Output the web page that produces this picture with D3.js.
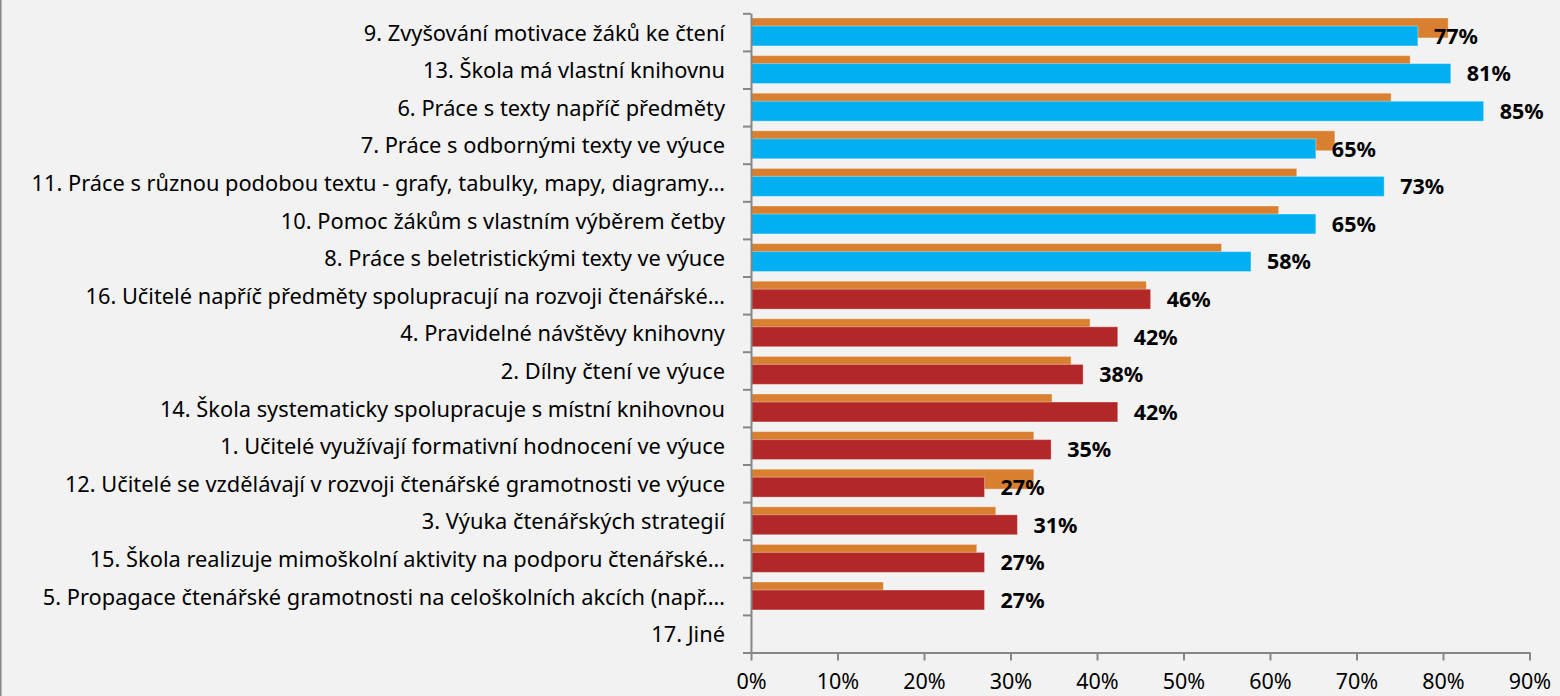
<!DOCTYPE html>
<html lang="cs">
<head>
    <meta charset="UTF-8">
    <title>Čtenářská gramotnost</title>
    <script src="https://d3js.org/d3.v7.min.js"></script>
    <style>
        body { margin: 0; background: #f2f2f2; }
        svg { display: block; }
        .cat-label { font-family: "Noto Sans", Lato, sans-serif; font-size: 21.8px; fill: #000; }
        .val-label { font-family: "Noto Sans", Lato, sans-serif; font-size: 21.5px; font-weight: bold; fill: #000; }
        .axis path, .axis line { stroke: #868686; stroke-width: 2px; }
        .axis text { font-family: "Noto Sans", Lato, sans-serif; font-size: 21.5px; fill: #000; }
    </style>
</head>
<body>
    <svg id="chart"></svg>
    <script>
        // categories, top to bottom
        const categories = [
            "9. Zvyšování motivace žáků ke čtení",
            "13. Škola má vlastní knihovnu",
            "6. Práce s texty napříč předměty",
            "7. Práce s odbornými texty ve výuce",
            "11. Práce s různou podobou textu - grafy, tabulky, mapy, diagramy…",
            "10. Pomoc žákům s vlastním výběrem četby",
            "8. Práce s beletristickými texty ve výuce",
            "16. Učitelé napříč předměty spolupracují na rozvoji čtenářské…",
            "4. Pravidelné návštěvy knihovny",
            "2. Dílny čtení ve výuce",
            "14. Škola systematicky spolupracuje s místní knihovnou",
            "1. Učitelé využívají formativní hodnocení ve výuce",
            "12. Učitelé se vzdělávají v rozvoji čtenářské gramotnosti ve výuce",
            "3. Výuka čtenářských strategií",
            "15. Škola realizuje mimoškolní aktivity na podporu čtenářské…",
            "5. Propagace čtenářské gramotnosti na celoškolních akcích (např.…",
            "17. Jiné"
        ];
        // comparison series (orange, thin strip behind)
        const compareValues = [0.806, 0.762, 0.740, 0.675, 0.631, 0.610, 0.544, 0.457, 0.392, 0.370,
                               0.348, 0.327, 0.327, 0.283, 0.261, 0.153, null];
        // main series (labelled)
        const mainValues = [0.771, 0.809, 0.847, 0.653, 0.732, 0.653, 0.578, 0.462, 0.424, 0.384,
                            0.424, 0.347, 0.270, 0.308, 0.270, 0.270, null];
        // group of each category (first block blue, second red)
        const groups = ["top", "top", "top", "top", "top", "top", "top",
                        "rest", "rest", "rest", "rest", "rest", "rest", "rest", "rest", "rest", "rest"];
        const xTicks = [0, 0.1, 0.2, 0.3, 0.4, 0.5, 0.6, 0.7, 0.8, 0.9];

        const W = 1560, H = 696;
        const svg = d3.select("#chart").attr("width", W).attr("height", H);

        svg.append("rect").attr("width", W).attr("height", H).attr("fill", "#f2f2f2");
        svg.append("line").attr("x1", 0.75).attr("x2", 0.75).attr("y1", 0).attr("y2", H)
            .attr("stroke", "#868686").attr("stroke-width", 1.5);

        const x = d3.scaleLinear().domain([0, 0.9]).range([751, 1529.5]);
        const y = d3.scaleBand().domain(categories).range([13.3, 652.5]).padding(0);
        const bw = y.bandwidth();
        const color = d3.scaleOrdinal().domain(["top", "rest"]).range(["#00b0f0", "#b22727"]);

        const rows = categories.map((c, i) => ({
            cat: c, comp: compareValues[i], main: mainValues[i], group: groups[i]
        }));

        // orange bars
        svg.append("g").selectAll("rect")
            .data(rows.filter(d => d.comp != null))
            .join("rect")
            .attr("x", x(0))
            .attr("y", d => y(d.cat) + bw * 0.125)
            .attr("width", d => x(d.comp) - x(0))
            .attr("height", bw * 0.53)
            .attr("fill", "#d98030")
            .attr("stroke", "rgba(255,255,255,0.35)")
            .attr("stroke-width", 1);

        // main bars
        svg.append("g").selectAll("rect")
            .data(rows.filter(d => d.main != null))
            .join("rect")
            .attr("x", x(0))
            .attr("y", d => y(d.cat) + bw * 0.338)
            .attr("width", d => x(d.main) - x(0))
            .attr("height", bw * 0.53)
            .attr("fill", d => color(d.group))
            .attr("stroke", "rgba(255,255,255,0.35)")
            .attr("stroke-width", 1);

        // value labels
        svg.append("g").selectAll("text")
            .data(rows.filter(d => d.main != null))
            .join("text")
            .attr("class", "val-label")
            .attr("x", d => x(d.main) + 16)
            .attr("y", d => y(d.cat) + bw * 0.6 + 8)
            .text(d => d3.format(".0%")(d.main));

        // category labels
        svg.append("g").selectAll("text")
            .data(categories)
            .join("text")
            .attr("class", "cat-label")
            .attr("text-anchor", "end")
            .attr("x", 725)
            .attr("y", d => y(d) + bw / 2 + 8.5)
            .text(d => d);

        // y axis with ticks at band boundaries
        const yb = d3.scaleLinear().domain([0, categories.length]).range([13.3, 652.5]);
        svg.append("g")
            .attr("class", "axis")
            .attr("transform", "translate(751,0)")
            .call(d3.axisLeft(yb).tickValues(d3.range(categories.length + 1)).tickSize(8).tickSizeOuter(0).tickFormat(""));

        // x axis
        const xAxis = svg.append("g")
            .attr("class", "axis")
            .attr("transform", "translate(0,652.5)")
            .call(d3.axisBottom(x).tickValues(xTicks).tickSize(8).tickSizeOuter(0).tickFormat(d3.format(".0%")));
        xAxis.selectAll("text").attr("y", 21).attr("dy", "0.71em");
    </script>
</body>
</html>
